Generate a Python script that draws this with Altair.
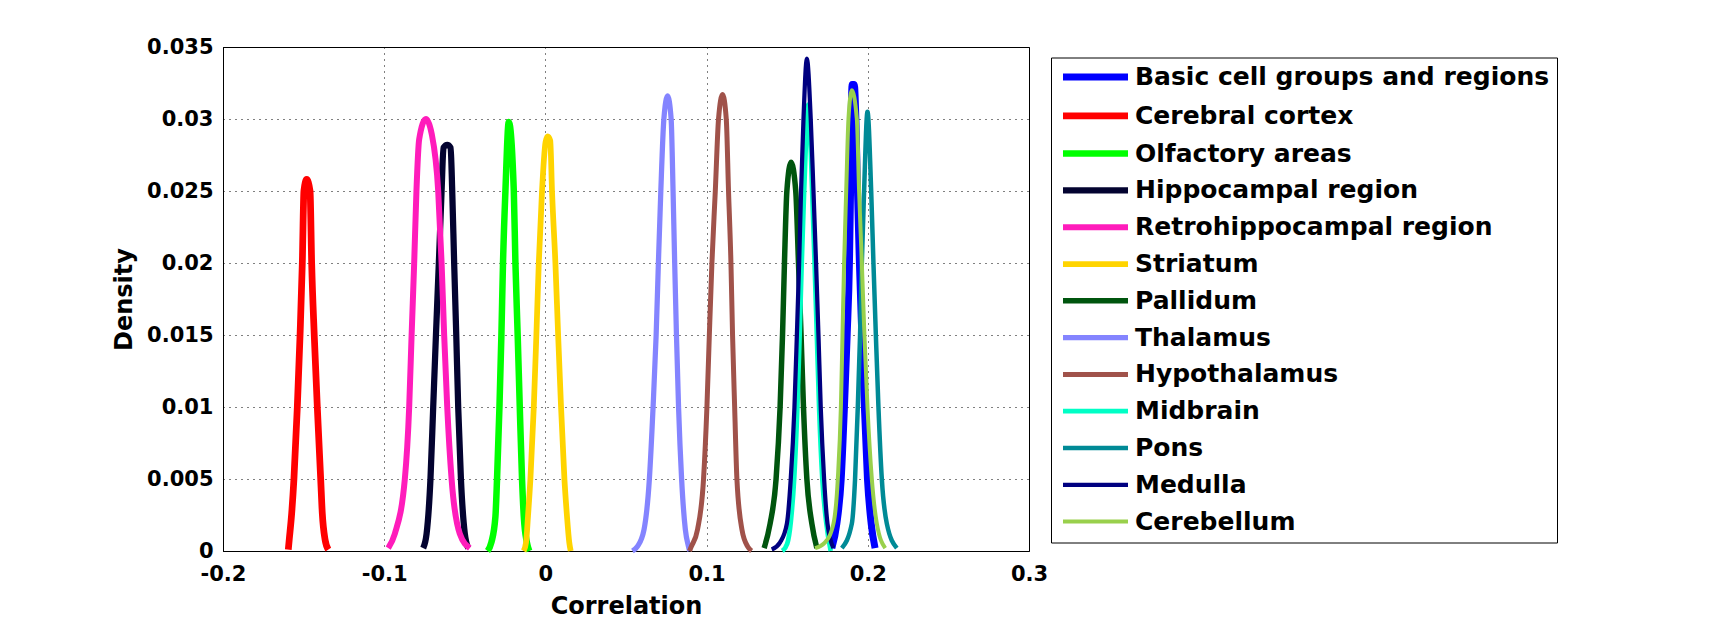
import altair as alt
import pandas as pd

names = ["Basic cell groups and regions", "Cerebral cortex", "Olfactory areas",
         "Hippocampal region", "Retrohippocampal region", "Striatum", "Pallidum",
         "Thalamus", "Hypothalamus", "Midbrain", "Pons", "Medulla", "Cerebellum"]
colors = ["#0000ff", "#ff0000", "#00ff00", "#030330", "#ff1cbb", "#ffd400", "#00550e",
          "#8484ff", "#a0524a", "#00ffc6", "#008a96", "#000080", "#99d04c"]
widths = [7, 4, 4.5, 7, 7, 7, 4, 4, 4, 4, 4, 4, 4]

basic_x = [0.1777, 0.1808, 0.1835, 0.1855, 0.1872, 0.1886, 0.1893, 0.1897, 0.1903, 0.1916, 0.1926, 0.1936, 0.1948, 0.1963, 0.1979, 0.1998, 0.2021, 0.2045]
basic_y = [0.0002, 0.0019, 0.005, 0.010, 0.015, 0.020, 0.025, 0.030, 0.0324, 0.0324, 0.030, 0.025, 0.020, 0.015, 0.010, 0.005, 0.0019, 0.0002]

cortex_x = [-0.1595, -0.1589, -0.1574, -0.1560, -0.1539, -0.1522, -0.1508, -0.1498, -0.1481, -0.1460, -0.1450, -0.1434, -0.1415, -0.1394, -0.1384, -0.1367, -0.1347]
cortex_y = [0.0001, 0.0008, 0.0026, 0.005, 0.010, 0.015, 0.020, 0.025, 0.0258, 0.025, 0.020, 0.015, 0.010, 0.005, 0.0026, 0.0008, 0.0001]

olf_x = [-0.0359, -0.0335, -0.0310, -0.0300, -0.0285, -0.0273, -0.0263, -0.0248, -0.0227, -0.0196, -0.0186, -0.0172, -0.0159, -0.0145, -0.0134, -0.0115, -0.0100]
olf_y = [0.0, 0.0006, 0.0024, 0.005, 0.010, 0.015, 0.020, 0.025, 0.0298, 0.025, 0.020, 0.015, 0.010, 0.005, 0.0024, 0.0006, 0.0]

hippo_x = [-0.0758, -0.0737, -0.0713, -0.0696, -0.0679, -0.0661, -0.0644, -0.0632, -0.0609, -0.0588, -0.0578, -0.0566, -0.0553, -0.0541, -0.0524, -0.0500, -0.0479]
hippo_y = [0.0002, 0.0012, 0.005, 0.010, 0.015, 0.020, 0.025, 0.0280, 0.0282, 0.0280, 0.025, 0.020, 0.015, 0.010, 0.005, 0.0012, 0.0002]

retro_x = [-0.0975, -0.0934, -0.0872, -0.0845, -0.0830, -0.0814, -0.0800, -0.0783, -0.0741, -0.0706, -0.0665, -0.0644, -0.0628, -0.0609, -0.0582, -0.0531, -0.0469]
retro_y = [0.0002, 0.0012, 0.005, 0.010, 0.015, 0.020, 0.025, 0.0286, 0.0300, 0.0290, 0.025, 0.020, 0.015, 0.010, 0.005, 0.0012, 0.0002]

str_x = [-0.0135, -0.0120, -0.0108, -0.0093, -0.0072, -0.0056, -0.0041, -0.0021, 0.0001, 0.0014, 0.0030, 0.0041, 0.0062, 0.0079, 0.0097, 0.0118, 0.0134, 0.0148, 0.0157]
str_y = [0.0, 0.0006, 0.0024, 0.005, 0.010, 0.015, 0.020, 0.025, 0.0284, 0.0288, 0.0285, 0.025, 0.020, 0.015, 0.010, 0.005, 0.0024, 0.0006, 0.0]

pall_x = [0.1357, 0.1394, 0.1431, 0.1456, 0.1471, 0.1483, 0.1498, 0.1524, 0.1553, 0.1570, 0.1586, 0.1601, 0.1622, 0.1653, 0.1684]
pall_y = [0.0002, 0.0019, 0.005, 0.010, 0.015, 0.020, 0.025, 0.0270, 0.025, 0.020, 0.015, 0.010, 0.005, 0.0019, 0.0002]

thal_x = [0.0540, 0.0570, 0.0612, 0.0645, 0.0668, 0.0687, 0.0701, 0.0716, 0.0735, 0.0758, 0.0780, 0.0792, 0.0802, 0.0813, 0.0826, 0.0845, 0.0868, 0.0888, 0.0895]
thal_y = [0.0, 0.0003, 0.0015, 0.005, 0.010, 0.015, 0.020, 0.025, 0.030, 0.0316, 0.030, 0.025, 0.020, 0.015, 0.010, 0.005, 0.0015, 0.0003, 0.0]

hypo_x = [0.0894, 0.0905, 0.0944, 0.0981, 0.1002, 0.1017, 0.1033, 0.1054, 0.1074, 0.1099, 0.1122, 0.1136, 0.1151, 0.1161, 0.1174, 0.1188, 0.1219, 0.1255, 0.1279]
hypo_y = [0.0, 0.0003, 0.0015, 0.005, 0.010, 0.015, 0.020, 0.025, 0.030, 0.0317, 0.030, 0.025, 0.020, 0.015, 0.010, 0.005, 0.0015, 0.0003, 0.0]

mid_x = [0.1470, 0.1500, 0.1522, 0.1543, 0.1563, 0.1577, 0.1590, 0.1605, 0.1632, 0.1655, 0.1670, 0.1684, 0.1698, 0.1718, 0.1742, 0.1770]
mid_y = [0.0, 0.0005, 0.002, 0.005, 0.010, 0.015, 0.020, 0.025, 0.0310, 0.025, 0.020, 0.015, 0.010, 0.005, 0.002, 0.0]

pons_x = [0.1839, 0.1901, 0.1921, 0.1938, 0.1952, 0.1963, 0.1977, 0.1998, 0.2021, 0.2035, 0.2050, 0.2066, 0.2087, 0.2118, 0.2180]
pons_y = [0.0002, 0.0019, 0.005, 0.010, 0.015, 0.020, 0.025, 0.0305, 0.025, 0.020, 0.015, 0.010, 0.005, 0.0019, 0.0002]

med_x = [0.1404, 0.1456, 0.1498, 0.1522, 0.1545, 0.1560, 0.1574, 0.1586, 0.1601, 0.1622, 0.1646, 0.1663, 0.1679, 0.1694, 0.1708, 0.1729, 0.1750, 0.1787]
med_y = [0.0001, 0.0006, 0.0019, 0.005, 0.010, 0.015, 0.020, 0.025, 0.030, 0.0342, 0.030, 0.025, 0.020, 0.015, 0.010, 0.005, 0.0019, 0.0002]

cereb_x = [0.1673, 0.1735, 0.1787, 0.1814, 0.1833, 0.1843, 0.1853, 0.1866, 0.1880, 0.1901, 0.1932, 0.1946, 0.1963, 0.1979, 0.1998, 0.2025, 0.2056, 0.2108]
cereb_y = [0.0002, 0.0006, 0.0019, 0.005, 0.010, 0.015, 0.020, 0.025, 0.030, 0.0320, 0.030, 0.025, 0.020, 0.015, 0.010, 0.005, 0.0019, 0.0002]

x_ticks = [-0.2, -0.1, 0, 0.1, 0.2, 0.3]
y_ticks = [0, 0.005, 0.01, 0.015, 0.02, 0.025, 0.03, 0.035]

series_x = [basic_x, cortex_x, olf_x, hippo_x, retro_x, str_x, pall_x, thal_x, hypo_x, mid_x, pons_x, med_x, cereb_x]
series_y = [basic_y, cortex_y, olf_y, hippo_y, retro_y, str_y, pall_y, thal_y, hypo_y, mid_y, pons_y, med_y, cereb_y]

rows = []
for n, xs, ys in zip(names, series_x, series_y):
    for i, (a, b) in enumerate(zip(xs, ys)):
        rows.append({"region": n, "corr": a, "density": b, "i": i})
df = pd.DataFrame(rows)

font = "DejaVu Sans"

chart = alt.Chart(df).mark_line(interpolate="monotone").encode(
    x=alt.X("corr:Q",
            scale=alt.Scale(domain=[-0.2, 0.3], nice=False, zero=False),
            axis=alt.Axis(values=x_ticks, title="Correlation", labelFlush=False,
                          labelExpr="datum.value < 0 ? '-' + format(-datum.value, '~g') : format(datum.value, '~g')",
                          labelPadding=12, titlePadding=10)),
    y=alt.Y("density:Q",
            scale=alt.Scale(domain=[0, 0.035], nice=False),
            axis=alt.Axis(values=y_ticks, title="Density", format="~g",
                          labelPadding=10, titlePadding=10)),
    color=alt.Color("region:N", title=None,
                    scale=alt.Scale(domain=names, range=colors),
                    legend=alt.Legend(orient="none", legendX=828, legendY=10.5,
                                      symbolType="M-0.9375,0H7.1875", symbolSize=256,
                                      labelOffset=52, rowPadding=10.8, padding=7,
                                      strokeColor="black", fillColor="white",
                                      labelFont=font, labelFontSize=25, labelFontWeight="bold",
                                      labelColor="black", labelLimit=700)),
    strokeWidth=alt.StrokeWidth("region:N", title=None,
                                scale=alt.Scale(domain=names, range=widths)),
    order="i:Q",
).properties(
    width=806, height=504,
    autosize=alt.AutoSizeParams(type="none"),
    padding={"left": 215, "top": 39, "right": 570, "bottom": 72},
).configure(background="white").configure_view(
    stroke="black", strokeWidth=1
).configure_axis(
    domainColor="black", domainWidth=1,
    gridColor="black", gridDash=[1, 5], gridOpacity=1, gridWidth=1,
    ticks=False, tickSize=0,
    labelFont=font, labelFontSize=21, labelFontWeight="bold", labelColor="black",
    titleFont=font, titleFontSize=24, titleFontWeight="bold", titleColor="black",
)

chart.save("out.html", embed_options={"renderer": "svg", "actions": False})
